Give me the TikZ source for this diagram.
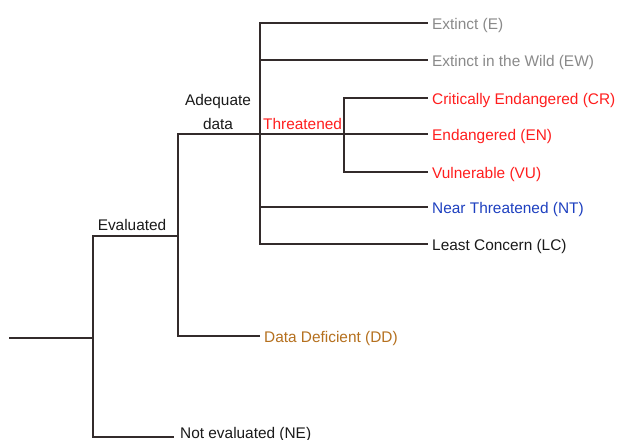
\documentclass[tikz,border=0pt]{standalone}
\usepackage{fontspec}
\setmainfont{Liberation Sans}
\definecolor{linec}{HTML}{332B2B}
\definecolor{grayc}{HTML}{8A8A8A}
\definecolor{redc}{HTML}{FF1E1E}
\definecolor{bluec}{HTML}{1E40C0}
\definecolor{brownc}{HTML}{B5701E}
\definecolor{textc}{HTML}{1A1A1A}
\tikzset{
  branch/.style={draw=linec, line width=2.5pt, line cap=rect},
  leaf/.style={anchor=west, inner xsep=5pt, inner ysep=0pt, text height=13.5pt, text depth=0pt, font=\fontsize{15.4}{18.5}\selectfont},
  lab/.style={inner sep=0pt, font=\fontsize{15.4}{18.5}\selectfont, text=textc}
}
\begin{document}
\begin{tikzpicture}[x=1pt,y=-1pt]
\useasboundingbox[fill=white] (0,0) rectangle (618,439);
% junctions
\coordinate (root) at (10,338);
\coordinate (j0) at (93,338);
\coordinate (j1) at (178,236);
\coordinate (j2) at (260,134);
\coordinate (j3) at (344,134);
\coordinate (neend) at (173,437);
% leaves
\node[leaf, text=grayc] (E) at (427,23) {Extinct (E)};
\node[leaf, text=grayc] (EW) at (427,60) {Extinct in the Wild (EW)};
\node[leaf, text=redc] (CR) at (427,98) {Critically Endangered (CR)};
\node[leaf, text=redc] (EN) at (427,134) {Endangered (EN)};
\node[leaf, text=redc] (VU) at (427,172) {Vulnerable (VU)};
\node[leaf, text=bluec] (NT) at (427,207) {Near Threatened (NT)};
\node[leaf, text=textc] (LC) at (427,244) {Least Concern (LC)};
\node[leaf, text=brownc, text height=12.5pt] (DD) at (259,336) {Data Deficient (DD)};
\node[lab, anchor=base west] (NE) at (180,438) {Not evaluated (NE)};
% branch labels
\node[lab, anchor=base] (ev) at (132,230) {Evaluated};
\node[lab, anchor=base] (ad1) at (218,105) {Adequate};
\node[lab, anchor=base] (ad2) at (218,129) {data};
\node[lab, anchor=base west, text=redc] (th) at (263,129) {Threatened};
% connectors
\path[branch] (root) -- (j0);
\path[branch] (j0) |- (j1);
\path[branch] (j0) |- (neend);
\path[branch] (j1) |- (j2);
\path[branch] (j1) |- (DD.west);
\path[branch] (j2) |- (E.west);
\path[branch] (j2) |- (EW.west);
\path[branch] (j2) -- (j3);
\path[branch] (j2) |- (NT.west);
\path[branch] (j2) |- (LC.west);
\path[branch] (j3) |- (CR.west);
\path[branch] (j3) -- (EN.west);
\path[branch] (j3) |- (VU.west);
\end{tikzpicture}
\end{document}
